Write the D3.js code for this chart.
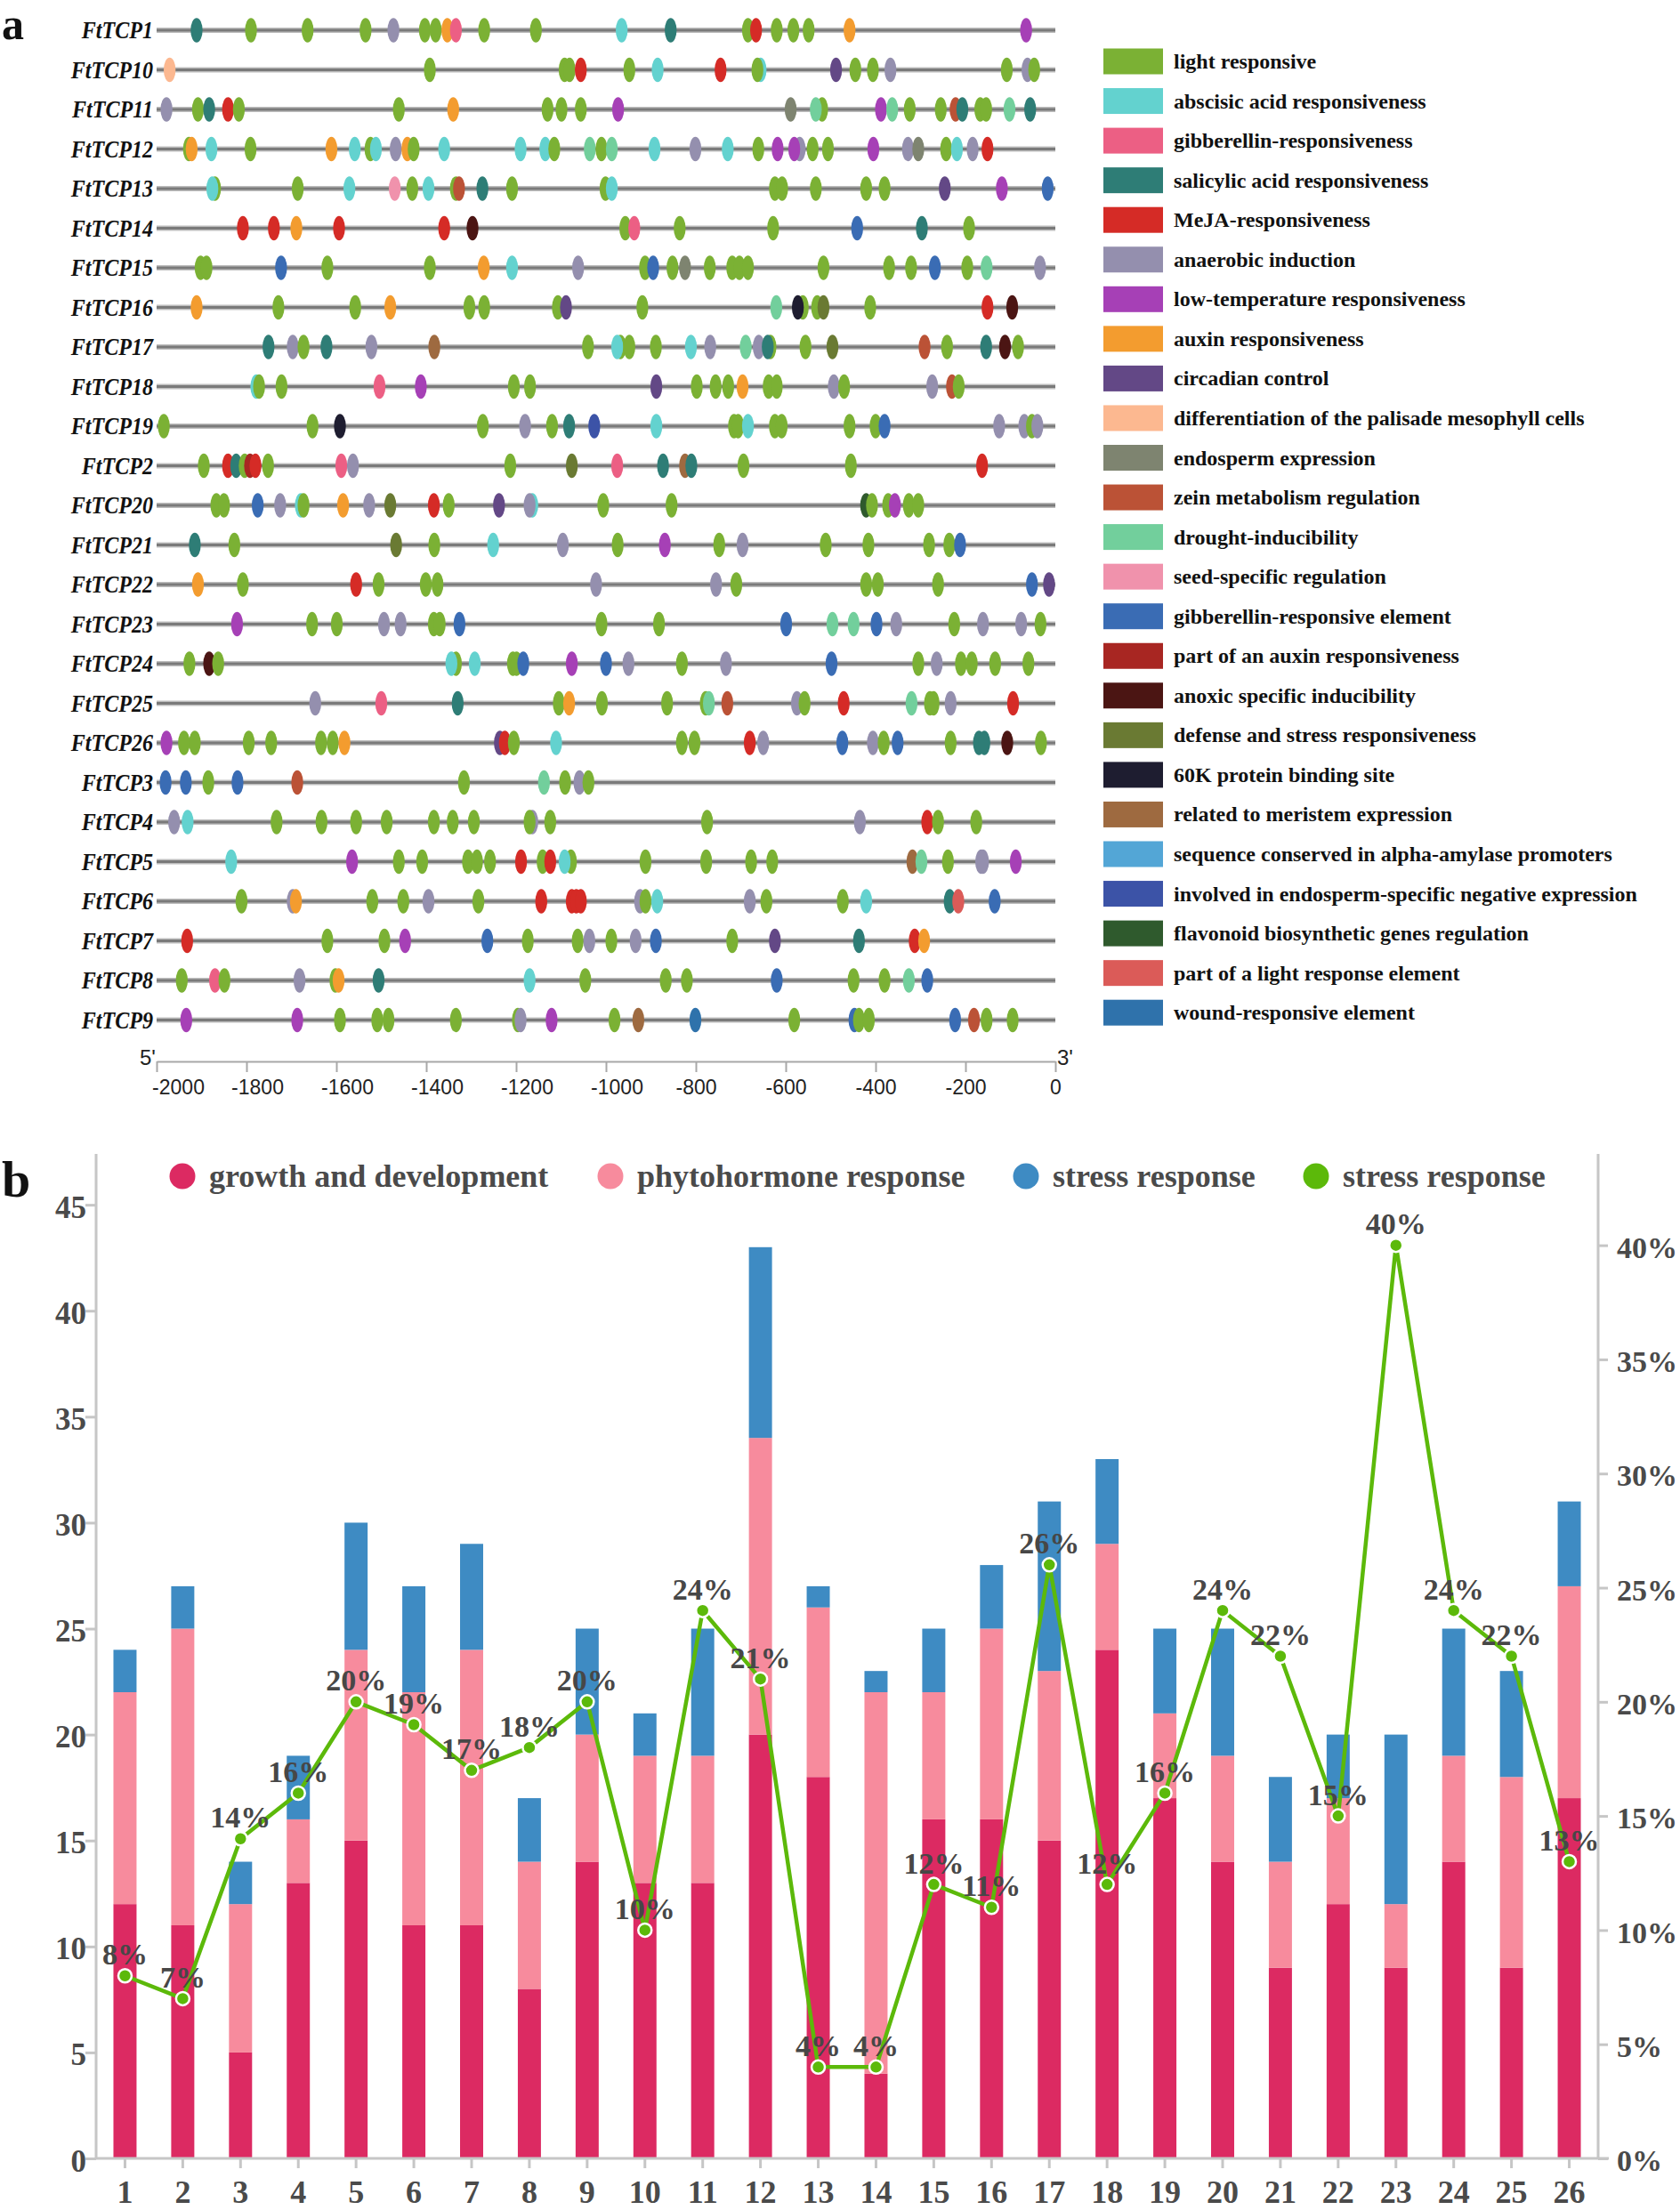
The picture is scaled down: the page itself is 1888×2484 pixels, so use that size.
<!DOCTYPE html>
<html>
<head>
<meta charset="utf-8">
<script src="https://cdn.jsdelivr.net/npm/d3@7"></script>
<style>
  html, body { margin: 0; padding: 0; background: #fff; }
  svg { display: block; }
</style>
</head>
<body>
<svg id="chart" width="1888" height="2484"></svg>
<script>
// ---------------- Panel a data ----------------
const genes = ["FtTCP1","FtTCP10","FtTCP11","FtTCP12","FtTCP13","FtTCP14","FtTCP15","FtTCP16","FtTCP17","FtTCP18","FtTCP19","FtTCP2","FtTCP20","FtTCP21","FtTCP22","FtTCP23","FtTCP24","FtTCP25","FtTCP26","FtTCP3","FtTCP4","FtTCP5","FtTCP6","FtTCP7","FtTCP8","FtTCP9"];

const elementCategories = ["light responsive","abscisic acid responsiveness","gibberellin-responsiveness","salicylic acid responsiveness","MeJA-responsiveness","anaerobic induction","low-temperature responsiveness","auxin responsiveness","circadian control","differentiation of the palisade mesophyll cells","endosperm expression","zein metabolism regulation","drought-inducibility","seed-specific regulation","gibberellin-responsive element","part of an auxin responsiveness","anoxic specific inducibility","defense and stress responsiveness","60K protein binding site","related to meristem expression","sequence conserved in alpha-amylase promoters","involved in endosperm-specific negative expression","flavonoid biosynthetic genes regulation","part of a light response element","wound-responsive element"];
const elementCodes = ["L","A","G","S","M","N","T","X","C","P","E","Z","D","SS","GE","PA","AN","DF","K","MR","AA","EN","F","PL","W"];
const elementColors = ["#7bb134","#63d2cf","#ec5f84","#2e7d76","#d52b26","#948fae","#a640b6","#f39c2f","#634886","#fcb890","#7e8470","#bb5236","#72cf9c","#f092ac","#3a6cb4","#a82622","#4b1513","#6a7a33","#1e1d30","#9e6a40","#53a6d6","#3c53a7","#2f5a2d","#db5b58","#2f72ab"];

// cis-element sites per gene: [position (bp, relative to ATG), element code]
const sites = [
  [[-1911,"S"],[-1790,"L"],[-1664,"L"],[-1535,"L"],[-1473,"N"],[-1403,"L"],[-1379,"L"],[-1353,"X"],[-1334,"G"],[-1271,"L"],[-1156,"L"],[-965,"A"],[-856,"S"],[-684,"L"],[-666,"M"],[-620,"L"],[-583,"L"],[-549,"L"],[-458,"X"],[-65,"T"]],
  [[-1971,"P"],[-1392,"L"],[-1092,"L"],[-1081,"L"],[-1056,"M"],[-948,"L"],[-885,"A"],[-745,"M"],[-656,"A"],[-663,"L"],[-488,"C"],[-445,"L"],[-406,"L"],[-367,"N"],[-108,"L"],[-62,"N"],[-47,"L"]],
  [[-1978,"N"],[-1908,"L"],[-1883,"S"],[-1841,"M"],[-1817,"L"],[-1461,"L"],[-1340,"X"],[-1130,"L"],[-1099,"L"],[-1056,"L"],[-973,"T"],[-589,"E"],[-519,"L"],[-533,"D"],[-388,"T"],[-363,"D"],[-324,"L"],[-255,"L"],[-222,"Z"],[-207,"S"],[-167,"L"],[-154,"L"],[-102,"D"],[-56,"S"]],
  [[-1928,"L"],[-1922,"X"],[-1878,"A"],[-1791,"L"],[-1611,"X"],[-1559,"A"],[-1524,"L"],[-1512,"A"],[-1468,"N"],[-1442,"X"],[-1428,"L"],[-1360,"A"],[-1190,"A"],[-1135,"A"],[-1115,"L"],[-1036,"D"],[-1010,"L"],[-987,"D"],[-892,"A"],[-801,"N"],[-729,"A"],[-661,"L"],[-618,"T"],[-569,"N"],[-581,"T"],[-540,"L"],[-506,"L"],[-405,"T"],[-328,"N"],[-305,"E"],[-243,"L"],[-219,"A"],[-184,"N"],[-151,"M"]],
  [[-1870,"L"],[-1876,"A"],[-1686,"L"],[-1571,"A"],[-1470,"SS"],[-1431,"L"],[-1395,"A"],[-1334,"L"],[-1327,"Z"],[-1275,"S"],[-1209,"L"],[-1001,"L"],[-987,"A"],[-624,"L"],[-608,"L"],[-533,"L"],[-421,"L"],[-380,"L"],[-246,"C"],[-119,"T"],[-17,"GE"]],
  [[-1808,"M"],[-1739,"M"],[-1689,"X"],[-1594,"M"],[-1360,"M"],[-1297,"AN"],[-957,"L"],[-937,"G"],[-836,"L"],[-628,"L"],[-441,"GE"],[-297,"S"],[-192,"L"]],
  [[-1902,"L"],[-1889,"L"],[-1723,"GE"],[-1620,"L"],[-1392,"L"],[-1272,"X"],[-1209,"A"],[-1062,"N"],[-913,"L"],[-895,"GE"],[-852,"L"],[-824,"E"],[-769,"L"],[-719,"L"],[-703,"L"],[-684,"L"],[-516,"L"],[-370,"L"],[-321,"L"],[-268,"GE"],[-196,"L"],[-153,"D"],[-34,"N"]],
  [[-1911,"X"],[-1729,"L"],[-1558,"L"],[-1480,"X"],[-1304,"L"],[-1271,"L"],[-1107,"L"],[-1089,"C"],[-919,"L"],[-621,"D"],[-562,"L"],[-573,"K"],[-530,"L"],[-516,"DF"],[-412,"L"],[-151,"M"],[-96,"AN"]],
  [[-1751,"S"],[-1697,"N"],[-1673,"L"],[-1622,"S"],[-1522,"N"],[-1382,"MR"],[-1040,"L"],[-968,"L"],[-975,"A"],[-948,"L"],[-889,"L"],[-811,"A"],[-768,"N"],[-689,"D"],[-660,"N"],[-634,"L"],[-640,"S"],[-556,"L"],[-496,"DF"],[-291,"Z"],[-241,"L"],[-154,"S"],[-112,"AN"],[-83,"L"]],
  [[-1778,"A"],[-1772,"L"],[-1722,"L"],[-1504,"G"],[-1412,"T"],[-1205,"L"],[-1169,"L"],[-888,"C"],[-798,"L"],[-756,"L"],[-728,"L"],[-696,"X"],[-638,"L"],[-620,"L"],[-493,"N"],[-470,"L"],[-274,"N"],[-230,"Z"],[-215,"L"]],
  [[-1984,"L"],[-1653,"L"],[-1592,"K"],[-1274,"L"],[-1180,"N"],[-1120,"L"],[-1082,"S"],[-1026,"EN"],[-888,"A"],[-715,"L"],[-706,"L"],[-684,"A"],[-624,"L"],[-609,"L"],[-458,"L"],[-400,"L"],[-380,"GE"],[-125,"N"],[-69,"N"],[-52,"L"],[-40,"N"]],
  [[-1895,"L"],[-1841,"M"],[-1823,"S"],[-1804,"L"],[-1792,"PA"],[-1780,"M"],[-1752,"L"],[-1589,"G"],[-1563,"N"],[-1213,"L"],[-1076,"DF"],[-975,"G"],[-873,"S"],[-824,"MR"],[-810,"S"],[-694,"L"],[-455,"L"],[-163,"M"]],
  [[-1867,"L"],[-1850,"L"],[-1775,"GE"],[-1725,"N"],[-1679,"A"],[-1673,"L"],[-1585,"X"],[-1527,"N"],[-1480,"DF"],[-1383,"M"],[-1350,"L"],[-1238,"C"],[-1164,"A"],[-1170,"N"],[-1006,"L"],[-854,"L"],[-421,"F"],[-408,"L"],[-372,"L"],[-357,"T"],[-326,"L"],[-305,"L"]],
  [[-1915,"S"],[-1827,"L"],[-1467,"DF"],[-1382,"L"],[-1251,"A"],[-1096,"N"],[-974,"L"],[-869,"T"],[-748,"L"],[-696,"N"],[-511,"L"],[-416,"L"],[-281,"L"],[-236,"L"],[-212,"GE"]],
  [[-1908,"X"],[-1808,"L"],[-1556,"M"],[-1506,"L"],[-1401,"L"],[-1375,"L"],[-1022,"N"],[-755,"N"],[-710,"L"],[-421,"L"],[-395,"L"],[-261,"L"],[-52,"GE"],[-14,"C"]],
  [[-1821,"T"],[-1654,"L"],[-1599,"L"],[-1494,"N"],[-1457,"N"],[-1383,"L"],[-1370,"L"],[-1326,"GE"],[-1010,"L"],[-882,"L"],[-599,"GE"],[-496,"D"],[-449,"D"],[-398,"GE"],[-354,"N"],[-225,"L"],[-161,"N"],[-76,"N"],[-33,"L"]],
  [[-1927,"L"],[-1883,"AN"],[-1863,"L"],[-1334,"L"],[-1344,"A"],[-1292,"A"],[-1207,"L"],[-1199,"L"],[-1184,"GE"],[-1076,"T"],[-1000,"GE"],[-950,"N"],[-831,"L"],[-733,"N"],[-498,"GE"],[-305,"L"],[-264,"N"],[-210,"L"],[-186,"L"],[-134,"L"],[-60,"L"]],
  [[-1647,"N"],[-1500,"G"],[-1330,"S"],[-1105,"L"],[-1082,"X"],[-1009,"L"],[-864,"L"],[-778,"L"],[-771,"D"],[-730,"Z"],[-575,"N"],[-558,"L"],[-471,"M"],[-320,"D"],[-279,"L"],[-271,"L"],[-233,"N"],[-94,"M"]],
  [[-1978,"T"],[-1939,"L"],[-1915,"L"],[-1795,"L"],[-1745,"L"],[-1634,"L"],[-1608,"L"],[-1582,"X"],[-1236,"C"],[-1225,"M"],[-1205,"L"],[-1111,"A"],[-831,"L"],[-803,"L"],[-680,"M"],[-650,"N"],[-474,"GE"],[-406,"N"],[-382,"L"],[-351,"GE"],[-233,"L"],[-170,"S"],[-158,"S"],[-107,"AN"],[-32,"L"]],
  [[-1980,"GE"],[-1935,"GE"],[-1885,"L"],[-1820,"GE"],[-1687,"Z"],[-1316,"L"],[-1138,"D"],[-1091,"L"],[-1059,"N"],[-1039,"L"]],
  [[-1961,"N"],[-1931,"A"],[-1733,"L"],[-1633,"L"],[-1556,"L"],[-1488,"L"],[-1383,"L"],[-1341,"L"],[-1294,"L"],[-1164,"N"],[-1170,"L"],[-1124,"L"],[-775,"L"],[-435,"N"],[-285,"M"],[-261,"L"],[-176,"L"]],
  [[-1834,"A"],[-1565,"T"],[-1461,"L"],[-1409,"L"],[-1307,"L"],[-1287,"L"],[-1258,"L"],[-1189,"M"],[-1141,"L"],[-1124,"M"],[-1078,"L"],[-1092,"A"],[-912,"L"],[-777,"L"],[-677,"L"],[-630,"L"],[-318,"MR"],[-298,"D"],[-239,"L"],[-165,"N"],[-161,"N"],[-88,"T"]],
  [[-1811,"L"],[-1697,"N"],[-1690,"X"],[-1520,"L"],[-1451,"L"],[-1395,"N"],[-1284,"L"],[-1144,"M"],[-1076,"M"],[-1066,"M"],[-1056,"M"],[-924,"N"],[-912,"L"],[-886,"A"],[-680,"N"],[-643,"L"],[-473,"L"],[-421,"A"],[-235,"S"],[-216,"PL"],[-135,"GE"]],
  [[-1932,"M"],[-1620,"L"],[-1493,"L"],[-1447,"T"],[-1264,"GE"],[-1174,"L"],[-1063,"L"],[-1037,"N"],[-988,"L"],[-934,"N"],[-889,"GE"],[-719,"L"],[-624,"C"],[-437,"S"],[-313,"M"],[-292,"X"]],
  [[-1944,"L"],[-1870,"G"],[-1849,"L"],[-1682,"N"],[-1602,"L"],[-1595,"X"],[-1506,"S"],[-1170,"A"],[-1046,"L"],[-867,"L"],[-820,"L"],[-620,"GE"],[-449,"L"],[-380,"L"],[-326,"D"],[-285,"GE"]],
  [[-1934,"T"],[-1687,"T"],[-1592,"L"],[-1509,"L"],[-1484,"L"],[-1334,"L"],[-1196,"L"],[-1190,"N"],[-1121,"T"],[-981,"L"],[-928,"MR"],[-801,"W"],[-581,"L"],[-447,"GE"],[-437,"L"],[-415,"L"],[-223,"GE"],[-181,"Z"],[-153,"L"],[-95,"L"]]
];
const positionTicks = [-2000,-1800,-1600,-1400,-1200,-1000,-800,-600,-400,-200,0];

// ---------------- Panel b data ----------------
const tcpIndex = ["1","2","3","4","5","6","7","8","9","10","11","12","13","14","15","16","17","18","19","20","21","22","23","24","25","26"];
const growthDev = [12,11,5,13,15,11,11,8,14,13,13,20,18,4,16,16,15,24,17,14,9,12,9,14,9,17];
const phytohormone = [10,14,7,3,9,11,13,6,6,6,6,14,8,18,6,9,8,5,4,5,5,5,3,5,9,10];
const stressResp = [2,2,2,3,6,5,5,3,5,2,6,9,1,1,3,3,8,4,4,6,4,3,8,6,5,4];
const stressPct = [8,7,14,16,20,19,17,18,20,10,24,21,4,4,12,11,26,12,16,24,22,15,40,24,22,13];
const countTicks = [0,5,10,15,20,25,30,35,40,45];
const pctTicks = [0,5,10,15,20,25,30,35,40];
const legendB = ["growth and development","phytohormone response","stress response","stress response"];
const colorsB = ["#dc2a62","#f78b9d","#3e8bc3","#5cb90a"];

// ---------------- Drawing ----------------
(function draw() {
const svg = d3.select("#chart");
const SERIF = "'Liberation Serif','Times New Roman',serif";
const SANS = "'Liberation Sans',Arial,sans-serif";

// panel labels
svg.append("text").attr("x", 2).attr("y", 44).attr("font-family", SERIF).attr("font-weight", "bold")
  .attr("font-size", 50).attr("fill", "#111").text("a");
svg.append("text").attr("x", 2).attr("y", 1345).attr("font-family", SERIF).attr("font-weight", "bold")
  .attr("font-size", 58).attr("fill", "#111").text("b");

// ---- Panel a ----
const xA = d3.scaleLinear().domain([-2000, 0]).range([176, 1186]);
const yA = d3.scalePoint().domain(genes).range([34, 1146.5]);
const codeIndex = new Map(elementCodes.map((c, i) => [c, i]));

const gA = svg.append("g");
const rows = gA.selectAll("g.row").data(genes).join("g").attr("class", "row")
  .attr("transform", d => `translate(0,${yA(d)})`);
rows.append("line").attr("x1", xA(-2000)).attr("x2", xA(0)).attr("y1", 0).attr("y2", 0)
  .attr("stroke", "#bdbdbd").attr("stroke-width", 6);
rows.append("line").attr("x1", xA(-2000)).attr("x2", xA(0)).attr("y1", 0).attr("y2", 0)
  .attr("stroke", "#7a7a7a").attr("stroke-width", 3);
rows.append("text").attr("transform", "translate(172,9) scale(0.86,1)").attr("text-anchor", "end")
  .attr("font-family", SERIF).attr("font-weight", "bold").attr("font-style", "italic")
  .attr("font-size", 28).attr("fill", "#111").text(d => d);
rows.each(function(g, i) {
  d3.select(this).selectAll("ellipse").data(sites[i]).join("ellipse")
    .attr("cx", d => xA(d[0])).attr("cy", 0).attr("rx", 6.7).attr("ry", 13.8)
    .attr("fill", d => elementColors[codeIndex.get(d[1])]);
});

// axis a
const axisA = d3.axisBottom(xA).tickValues(positionTicks).tickSize(12).tickSizeOuter(0)
  .tickFormat(d => String(d));
const gAxA = svg.append("g").attr("transform", "translate(0,1193)").call(axisA);
gAxA.select(".domain").attr("stroke", "#a8a8a8").attr("stroke-width", 2);
gAxA.selectAll(".tick line").attr("stroke", "#a8a8a8").attr("stroke-width", 2);
gAxA.selectAll(".tick text").attr("font-family", SANS).attr("font-size", 23).attr("fill", "#222")
  .attr("dy", "0.95em").attr("dx", d => d <= -1000 ? (d === -2000 ? 24 : 12) : 0);
svg.append("text").attr("x", 157).attr("y", 1197).attr("font-family", SANS).attr("font-size", 24)
  .attr("fill", "#222").text("5'");
svg.append("text").attr("x", 1188).attr("y", 1197).attr("font-family", SANS).attr("font-size", 24)
  .attr("fill", "#222").text("3'");

// legend a
const legA = svg.append("g").selectAll("g").data(elementCategories).join("g")
  .attr("transform", (d, i) => `translate(1240,${69 + i * 44.55})`);
legA.append("rect").attr("x", 0).attr("y", -14.5).attr("width", 67).attr("height", 29)
  .attr("fill", (d, i) => elementColors[i]);
legA.append("text").attr("x", 79).attr("y", 8).attr("font-family", SERIF).attr("font-weight", "bold")
  .attr("font-size", 24).attr("fill", "#111").text(d => d);

// ---- Panel b ----
const pTop = 1297, pBottom = 2426, pLeft = 108, pRight = 1796;
const xB = d3.scaleBand().domain(tcpIndex).range([pLeft, pRight]).paddingInner(0.6).paddingOuter(0.3);
const yL = d3.scaleLinear().domain([0, 47.4]).range([pBottom, pTop]);
const yR = d3.scaleLinear().domain([0, 44]).range([pBottom, pTop]);

const stackInput = tcpIndex.map((k, i) => ({ k, g: growthDev[i], p: phytohormone[i], s: stressResp[i] }));
const stacked = d3.stack().keys(["g", "p", "s"])(stackInput);
const gB = svg.append("g");
gB.selectAll("g.series").data(stacked).join("g").attr("fill", (d, i) => colorsB[i])
  .selectAll("rect").data(d => d).join("rect")
  .attr("x", d => xB(d.data.k)).attr("width", xB.bandwidth())
  .attr("y", d => yL(d[1])).attr("height", d => yL(d[0]) - yL(d[1]));

// axes b
const axisColor = "#c6c6c6";
const axL = d3.axisLeft(yL).tickValues(countTicks).tickSize(12).tickSizeOuter(0);
const gL = svg.append("g").attr("transform", `translate(${pLeft},0)`).call(axL);
gL.select(".domain").attr("d", `M0,${pTop}V${pBottom}`).attr("stroke", axisColor).attr("stroke-width", 3);
gL.selectAll(".tick line").attr("stroke", axisColor).attr("stroke-width", 3);
gL.selectAll(".tick text").attr("font-family", SERIF).attr("font-weight", "bold").attr("font-size", 35)
  .attr("fill", "#4a4a4a").attr("x", -11).attr("dy", "0.4em");

const axR = d3.axisRight(yR).tickValues(pctTicks).tickSize(11).tickSizeOuter(0).tickFormat(d => d + "%");
const gR = svg.append("g").attr("transform", `translate(${pRight},0)`).call(axR);
gR.select(".domain").attr("d", `M0,${pTop}V${pBottom}`).attr("stroke", axisColor).attr("stroke-width", 3);
gR.selectAll(".tick line").attr("stroke", axisColor).attr("stroke-width", 3);
gR.selectAll(".tick text").attr("font-family", SERIF).attr("font-weight", "bold").attr("font-size", 34)
  .attr("fill", "#4a4a4a").attr("x", 21).attr("dy", "0.4em");

const axX = d3.axisBottom(xB).tickSize(11).tickSizeOuter(0);
const gX = svg.append("g").attr("transform", `translate(0,${pBottom})`).call(axX);
gX.select(".domain").attr("d", `M${pLeft},0H${pRight + 12}`).attr("stroke", axisColor).attr("stroke-width", 3);
gX.selectAll(".tick line").attr("stroke", axisColor).attr("stroke-width", 3);
gX.selectAll(".tick text").attr("font-family", SERIF).attr("font-weight", "bold").attr("font-size", 36)
  .attr("fill", "#4a4a4a").attr("y", 50).attr("dy", 0);

// line
const lineGen = d3.line().x((d, i) => xB(tcpIndex[i]) + xB.bandwidth() / 2).y(d => yR(d));
gB.append("path").datum(stressPct).attr("d", lineGen).attr("fill", "none")
  .attr("stroke", colorsB[3]).attr("stroke-width", 4.5).attr("stroke-linejoin", "round");
gB.selectAll("circle.pt").data(stressPct).join("circle").attr("class", "pt")
  .attr("cx", (d, i) => xB(tcpIndex[i]) + xB.bandwidth() / 2).attr("cy", d => yR(d)).attr("r", 7.5)
  .attr("fill", colorsB[3]).attr("stroke", "#fff").attr("stroke-width", 2.5);
gB.selectAll("text.lbl").data(stressPct).join("text").attr("class", "lbl")
  .attr("x", (d, i) => xB(tcpIndex[i]) + xB.bandwidth() / 2).attr("y", d => yR(d) - 12.5)
  .attr("text-anchor", "middle").attr("font-family", SERIF).attr("font-weight", "bold")
  .attr("font-size", 34).attr("fill", "#474747").text(d => d + "%");

// legend b
const legX = [205, 686, 1153, 1479];
const legB = svg.append("g").selectAll("g").data(legendB).join("g")
  .attr("transform", (d, i) => `translate(${legX[i]},1322)`);
legB.append("circle").attr("r", 14.5).attr("fill", (d, i) => colorsB[i]);
legB.append("text").attr("x", 30).attr("y", 12).attr("font-family", SERIF).attr("font-weight", "bold")
  .attr("font-size", 36).attr("fill", "#4a4a4a").text(d => d);
})();
</script>
</body>
</html>
